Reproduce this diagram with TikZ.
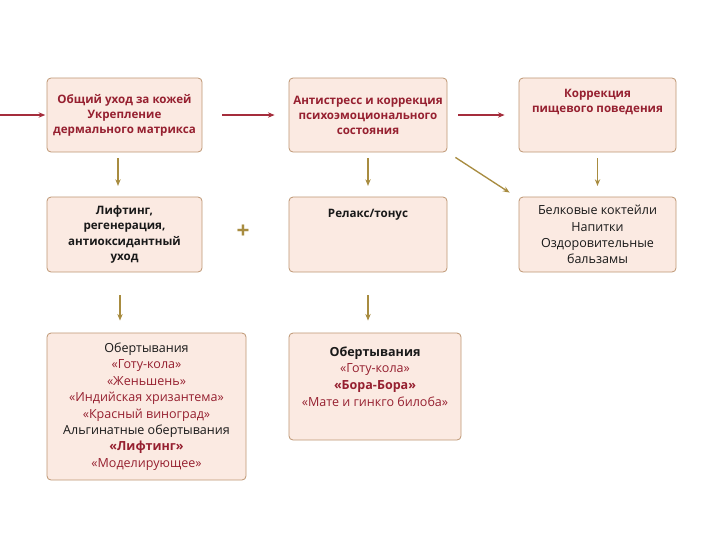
\documentclass[tikz,border=0pt]{standalone}
\usepackage{fontspec}
\setmainfont{Open Sans}
\usepackage{tikz}
\usetikzlibrary{calc, arrows.meta, positioning}
\definecolor{boxFill}{RGB}{251,234,226}
\definecolor{boxLine}{RGB}{190,150,115}
\definecolor{mainRed}{RGB}{150,32,48}
\definecolor{arrowRed}{RGB}{165,45,60}
\definecolor{arrowOlive}{RGB}{168,140,64}
\definecolor{mainBlack}{gray}{0.1}

\tikzset{
    box/.style={draw=boxLine, fill=boxFill, rounded corners=3pt, line width=0.6pt, inner sep=0pt},
    title/.style={font=\bfseries\fontsize{8.7}{11.3}\selectfont, text=mainRed, align=center},
    plain/.style={font=\fontsize{9.4}{12.5}\selectfont, text=mainBlack, align=center},
    redline/.style={-{Stealth[length=5pt,width=4pt]}, arrowRed, line width=1pt},
    oliveline/.style={-{Stealth[length=5pt,width=4pt]}, arrowOlive, line width=1pt},
}

\begin{document}
\begin{tikzpicture}[x=0.75pt, y=-0.75pt]
    \useasboundingbox (0,0) rectangle (720,540);
    \fill[white] (0,0) rectangle (720,540);

    % top row
    \node[box, minimum width=116.25pt, minimum height=55.5pt] (skin) at (124.5,115) {};
    \node[box, minimum width=118.5pt, minimum height=55.5pt] (stress) at (368,115) {};
    \node[box, minimum width=117.75pt, minimum height=55.5pt] (food) at (597.5,115) {};
    \node[title] (skintxt) at (skin.center) {Общий уход за кожей\\Укрепление\\дермального матрикса};
    \node[title] (stresstxt) at (stress.center) {Антистресс и коррекция\\психоэмоционального\\состояния};
    \node[title, below=5pt of food.north] (foodtxt) {Коррекция\\пищевого поведения};

    % middle row
    \node[box, minimum width=116.25pt, minimum height=56.25pt] (lift) at (124.5,234.5) {};
    \node[box, minimum width=118.5pt, minimum height=56.25pt] (relax) at (368,234.5) {};
    \node[box, minimum width=117.75pt, minimum height=56.25pt] (drinks) at (597.5,234.5) {};
    \node[title, text=mainBlack] (lifttxt) at (lift.center) {Лифтинг,\\регенерация,\\антиоксидантный\\уход};
    \node[title, text=mainBlack, below=6pt of relax.north] (relaxtxt) {Релакс/тонус};
    \node[plain] (drinkstxt) at (drinks.center) {Белковые коктейли\\Напитки\\Оздоровительные\\[-0.5pt]бальзамы};
    \node[font=\bfseries\fontsize{17}{17}\selectfont, text=arrowOlive] (plus) at (243,232) {+};

    % bottom row
    \node[box, minimum width=149.25pt, minimum height=110.25pt] (wrapA) at (146.5,406.5) {};
    \node[box, minimum width=129pt, minimum height=80.25pt] (wrapB) at (375,386.5) {};
    \node[plain, font=\fontsize{9.4}{12.3}\selectfont] (wrapAtxt) at (wrapA.center) {Обертывания\\
        \textcolor{mainRed}{«Готу-кола»}\\
        \textcolor{mainRed}{«Женьшень»}\\
        \textcolor{mainRed}{«Индийская хризантема»}\\
        \textcolor{mainRed}{«Красный виноград»}\\
        Альгинатные обертывания\\
        \textcolor{mainRed}{\bfseries «Лифтинг»}\\
        \textcolor{mainRed}{«Моделирующее»}};
    \node[plain, below=7pt of wrapB.north] (wrapBtxt) {\bfseries Обертывания\\
        \textcolor{mainRed}{«Готу-кола»}\\
        \textcolor{mainRed}{\bfseries «Бора-Бора»}\\
        \textcolor{mainRed}{«Мате и гинкго билоба»}};

    % connectors
    \coordinate (start) at (0,115);
    \draw[redline, shorten >=1pt] (start) -- (skin.west);
    \draw[redline, shorten <=15pt, shorten >=10.5pt] (skin.east) -- (stress.west);
    \draw[redline, shorten <=8pt, shorten >=10.5pt] (stress.east) -- (food.west);
    \draw[oliveline, shorten <=4.5pt, shorten >=8pt] (skin.south -| 118,0) -- (lift.north -| 118,0);
    \draw[oliveline, shorten <=4.5pt, shorten >=8pt] (stress.south) -- (relax.north);
    \draw[oliveline, shorten <=4.5pt, shorten >=8pt] (food.south) -- (drinks.north);
    \draw[oliveline] ($(stress.south east)+(8,5)$) -- ($(drinks.north west)+(-9,-4)$);
    \draw[oliveline, shorten <=17pt, shorten >=9pt] (lift.south -| 120,0) -- (wrapA.north -| 120,0);
    \draw[oliveline, shorten <=17pt, shorten >=9pt] (relax.south) -- (wrapB.north -| relax.south);
\end{tikzpicture}
\end{document}
